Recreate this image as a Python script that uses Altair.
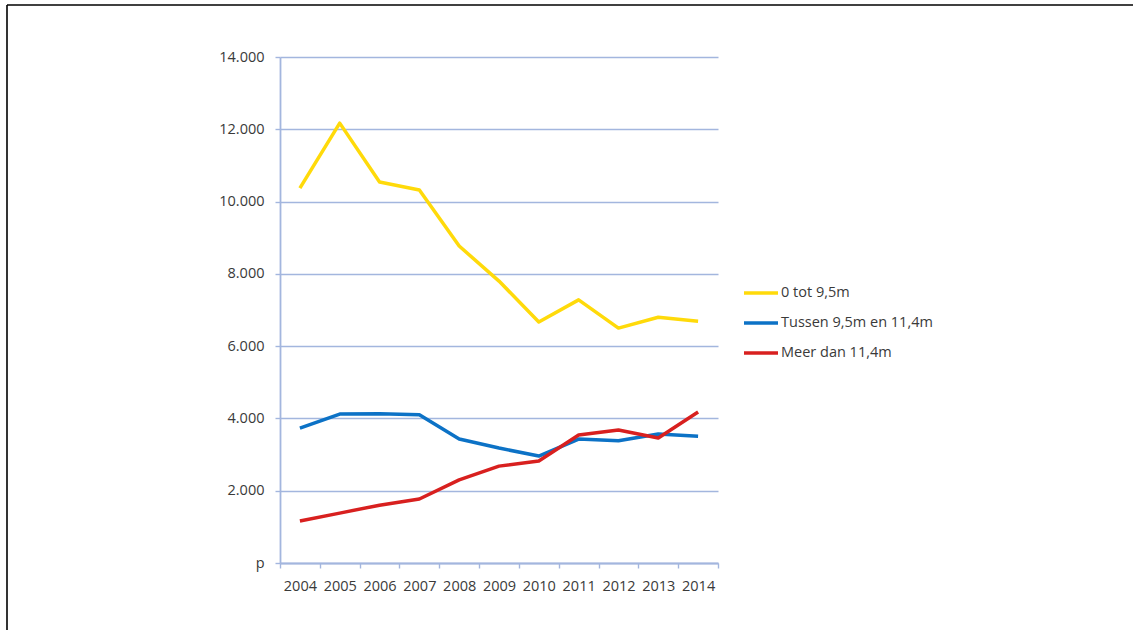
import altair as alt
import pandas as pd

years = [2004, 2005, 2006, 2007, 2008, 2009, 2010, 2011, 2012, 2013, 2014]
series_names = ["0 tot 9,5m", "Tussen 9,5m en 11,4m", "Meer dan 11,4m"]
small = [10370, 12170, 10540, 10320, 8770, 7800, 6670, 7280, 6500, 6800, 6690]
middle = [3730, 4120, 4130, 4100, 3430, 3180, 2960, 3430, 3380, 3570, 3510]
large = [1160, 1380, 1600, 1770, 2300, 2680, 2820, 3540, 3680, 3460, 4180]
colors = ["#FFDA0A", "#0C72C6", "#D8201F"]
y_ticks = [0, 2000, 4000, 6000, 8000, 10000, 12000, 14000]

rows = []
for name, vals in zip(series_names, [small, middle, large]):
    for yr, v in zip(years, vals):
        rows.append({"year": str(yr), "serie": name, "value": v})
df = pd.DataFrame(rows)

FONT = "Open Sans"
FS = 14.5
GRID = "#A3B6DE"
LABEL = "#3A3A3A"

lines = alt.Chart(df).mark_line(strokeWidth=3.5, strokeCap="butt", strokeJoin="round").encode(
    x=alt.X("year:O", title=None,
            scale=alt.Scale(type="band", paddingInner=0, paddingOuter=0),
            axis=alt.Axis(labelAngle=0, tickBand="extent", domainColor=GRID, tickColor=GRID,
                          domainWidth=1.8, tickWidth=1.4, tickSize=5, labelPadding=11,
                          labelColor=LABEL, labelFont=FONT, labelFontSize=FS, grid=False)),
    y=alt.Y("value:Q", title=None,
            scale=alt.Scale(domain=[0, 14000], nice=False),
            axis=alt.Axis(values=y_ticks, domainColor=GRID, tickColor=GRID, gridColor=GRID,
                          gridWidth=1.4, domainWidth=1.8, tickWidth=1.4, tickSize=5,
                          labelPadding=11, labelColor=LABEL, labelFont=FONT, labelFontSize=FS,
                          labelExpr="datum.value == 0 ? 'p' : replace(format(datum.value, ','), ',', '.')")),
    color=alt.Color("serie:N", title=None,
                    scale=alt.Scale(domain=series_names, range=colors),
                    sort=series_names,
                    legend=alt.Legend(orient="none", legendX=462, legendY=217, padding=0,
                                      symbolType="stroke", symbolSize=1156, symbolStrokeWidth=3.5,
                                      labelOffset=1, rowPadding=4, labelFont=FONT,
                                      labelFontSize=FS, labelColor=LABEL)),
    order=alt.Order("year:O"),
)

frame_data = alt.Data(values=[{}])
top_rule = alt.Chart(frame_data).mark_rule(color="black", strokeWidth=1.6).encode(
    x=alt.value(-273), x2=alt.value(860), y=alt.value(-52))
left_rule = alt.Chart(frame_data).mark_rule(color="black", strokeWidth=1.6).encode(
    x=alt.value(-273), y=alt.value(-52), y2=alt.value(580))

chart = alt.layer(lines, top_rule, left_rule).properties(
    width=438, height=506,
    padding={"left": 280, "top": 57, "right": 415, "bottom": 67},
    autosize=alt.AutoSizeParams(type="none"),
    background="white",
).configure_view(stroke=None)

chart.save("out.html", embed_options={"renderer": "svg", "actions": False})
